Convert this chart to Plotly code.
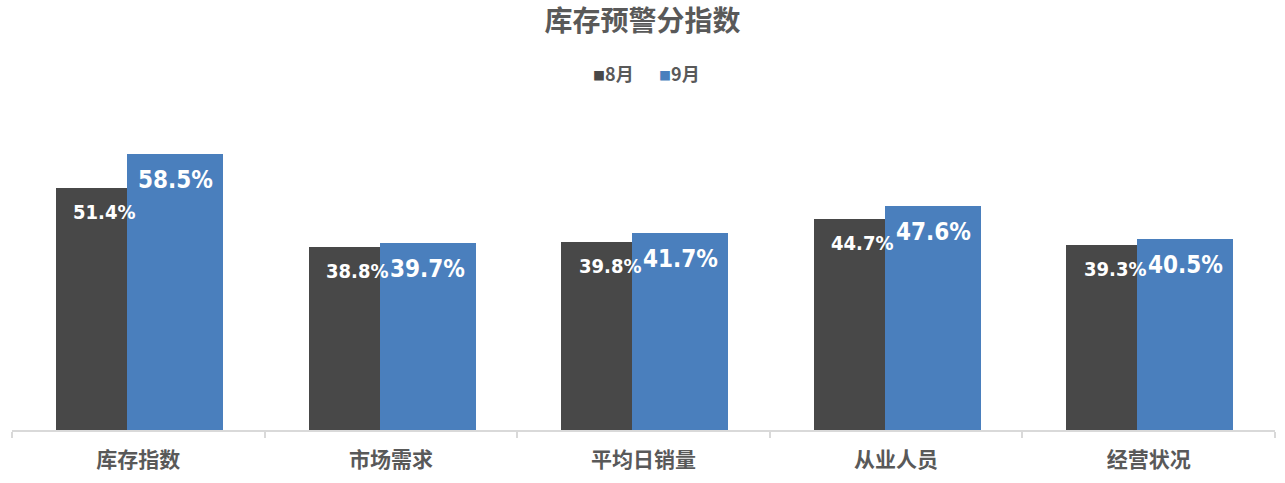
import plotly.graph_objects as go

categories = ["库存指数", "市场需求", "平均日销量", "从业人员", "经营状况"]
aug = [51.4, 38.8, 39.8, 44.7, 39.3]
sep = [58.5, 39.7, 41.7, 47.6, 40.5]
series_names = ["8月", "9月"]

DARK = "#484848"
BLUE = "#4a7fbd"
GRAY = "#595959"
CJK = "Noto Sans CJK SC, Noto Sans, sans-serif"
NUM = "DejaVu Sans Condensed, DejaVu Sans"

fig = go.Figure()
fig.add_trace(go.Bar(x=categories, y=aug, name=series_names[0], marker_color=DARK,
                     marker_line_width=0, width=0.281, offset=-0.326, showlegend=False))
fig.add_trace(go.Bar(x=categories, y=sep, name=series_names[1], marker_color=BLUE,
                     marker_line_width=0, width=0.380, offset=-0.0447, showlegend=False))

ann = []
for c, v in zip(categories, aug):
    ann.append(dict(x=c, y=v, text=f"<b>{v:.1f}%</b>",
                    showarrow=False, xref="x", yref="y",
                    xshift=-34, yshift=-24, yanchor="middle",
                    font=dict(family=NUM, size=20, color="white")))
for c, v in zip(categories, sep):
    ann.append(dict(x=c, y=v, text=f"<b>{v:.1f}%</b>",
                    showarrow=False, xref="x", yref="y",
                    xshift=37, yshift=-26, yanchor="middle",
                    font=dict(family=NUM, size=24, color="white")))

# legend drawn as text
ann.append(dict(xref="paper", yref="paper", x=0.5, y=1.081, xshift=-30, yanchor="middle",
                showarrow=False,
                text=f"<span style='color:{DARK};font-size:12px'>■</span><b>{series_names[0]}</b>",
                font=dict(family=CJK, size=18, color=GRAY)))
ann.append(dict(xref="paper", yref="paper", x=0.5, y=1.081, xshift=36, yanchor="middle",
                showarrow=False,
                text=f"<span style='color:{BLUE};font-size:12px'>■</span><b>{series_names[1]}</b>",
                font=dict(family=CJK, size=18, color=GRAY)))

fig.update_layout(
    width=1285, height=483,
    margin=dict(l=12, r=10, t=100, b=50),
    paper_bgcolor="white", plot_bgcolor="white",
    title=dict(text="<b>库存预警分指数</b>", x=0.5, xanchor="center", y=1 - 21 / 483,
               yref="container", yanchor="middle",
               font=dict(family=CJK, size=28, color=GRAY)),
    annotations=ann,
    xaxis=dict(range=[-0.5, 4.5], showline=True, linecolor="#d9d9d9", linewidth=1.5,
               ticks="outside", tickson="boundaries", ticklen=6, tickcolor="#d9d9d9",
               tickwidth=1.5, showgrid=False, ticklabelstandoff=10,
               tickfont=dict(family=CJK, size=21, color=GRAY),
               tickvals=categories, ticktext=[f"<b>{c}</b>" for c in categories]),
    yaxis=dict(range=[0, 70], visible=False, showgrid=False),
    bargap=0, barmode="group",
)

fig.write_html("out.html", config={"displayModeBar": False},
               post_script="document.body.style.margin='0';document.body.style.overflow='hidden';")
